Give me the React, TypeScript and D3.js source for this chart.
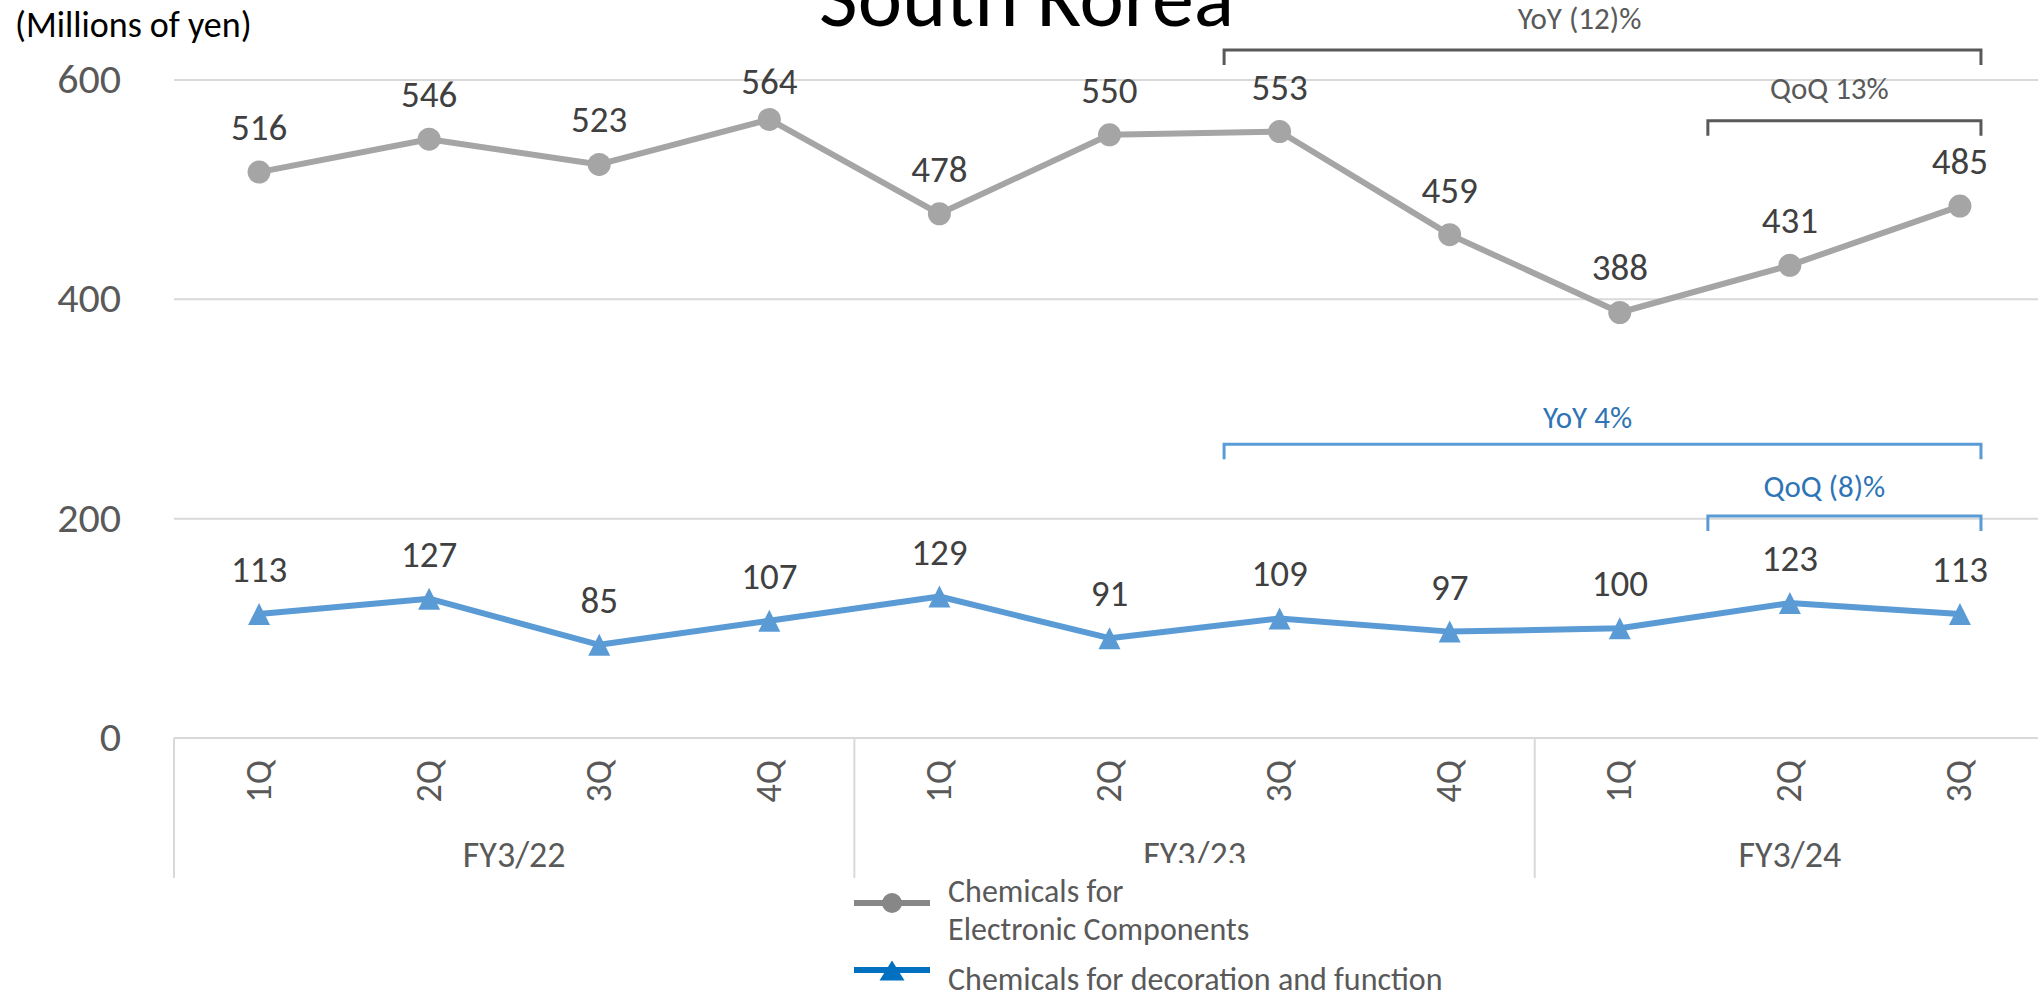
import React from "react";
import * as d3 from "d3";

// Quarterly sales in South Korea (millions of yen)
const quarters = ["1Q", "2Q", "3Q", "4Q", "1Q", "2Q", "3Q", "4Q", "1Q", "2Q", "3Q"];
const fiscalYears = ["FY3/22", "FY3/23", "FY3/24"];
const fiscalYearSpans = [
  [0, 4],
  [4, 8],
  [8, 11],
];
const electronicValues = [516, 546, 523, 564, 478, 550, 553, 459, 388, 431, 485];
const decorationValues = [113, 127, 85, 107, 129, 91, 109, 97, 100, 123, 113];
const yTicks = [0, 200, 400, 600];
const electronicName = ["Chemicals for", "Electronic Components"];
const decorationName = "Chemicals for decoration and function";
const changeNotes = [
  { text: "YoY (12)%", from: 6, to: 10, series: 0 },
  { text: "QoQ 13%", from: 9, to: 10, series: 0 },
  { text: "YoY 4%", from: 6, to: 10, series: 1 },
  { text: "QoQ (8)%", from: 9, to: 10, series: 1 },
];

// Layout of the change brackets (bar height, label offset, left reach)
const noteLayout = [
  { barY: 50, textDy: -21.5, textDx: -23, leftReach: 55.5 },
  { barY: 120.7, textDy: -21.5, textDx: -15, leftReach: 82 },
  { barY: 444.3, textDy: -16.5, textDx: -15, leftReach: 55.5 },
  { barY: 516, textDy: -19.5, textDx: -20, leftReach: 82 },
];

const W = 2038;
const H = 996;
const FONT = "Carlito, Calibri, 'Liberation Sans Narrow', Lato, sans-serif";

const GRAY = "#A5A5A5";
const BLUE = "#5B9BD5";
const GRID = "#D9D9D9";
const AXIS_TEXT = "#595959";
const LABEL_TEXT = "#404040";

export default function App() {
  const plotLeft = 174;
  const plotRight = 2045;
  const plotTop = 80;
  const plotBottom = 738;

  const x = d3
    .scaleBand<number>()
    .domain(d3.range(quarters.length))
    .range([plotLeft, plotRight]);
  const cx = (i: number) => (x(i) as number) + x.bandwidth() / 2;
  const y = d3.scaleLinear().domain([0, 600]).range([plotBottom, plotTop]);

  const line = d3
    .line<number>()
    .x((_, i) => cx(i))
    .y((d) => y(d));

  const triangle = (px: number, py: number, w: number, h: number) => {
    const p = d3.path();
    p.moveTo(px, py - h / 2);
    p.lineTo(px + w / 2, py + h / 2);
    p.lineTo(px - w / 2, py + h / 2);
    p.closePath();
    return p.toString();
  };

  // labels sit above their marker, but never above the top of the plot area
  const labelY = (v: number, minBaseline: number) => Math.max(y(v) - 32, minBaseline);

  return (
    <svg
      width={W}
      height={H}
      style={{ position: "absolute", left: 0, top: 0, background: "#fff" }}
      fontFamily={FONT}
    >
      <rect x={0} y={0} width={W} height={H} fill="#fff" />

      {/* gridlines */}
      {yTicks.map((t) => (
        <line
          key={"g" + t}
          x1={plotLeft}
          x2={plotRight}
          y1={y(t)}
          y2={y(t)}
          stroke={GRID}
          strokeWidth={2}
        />
      ))}

      {/* y axis labels */}
      {yTicks.map((t) => (
        <text
          key={"t" + t}
          x={121}
          y={y(t) + 13}
          textAnchor="end"
          fontSize={42}
          fill={AXIS_TEXT}
        >
          {t}
        </text>
      ))}

      {/* category group separators */}
      {[fiscalYearSpans[0][0], ...fiscalYearSpans.map((s) => s[1])].map((i, k) => {
        const xx = i < quarters.length ? (x(i) as number) : plotRight;
        return (
          <line
            key={"s" + k}
            x1={xx}
            x2={xx}
            y1={plotBottom}
            y2={878}
            stroke={GRID}
            strokeWidth={2}
          />
        );
      })}

      {/* quarter labels */}
      {quarters.map((q, i) => (
        <text
          key={"q" + i}
          transform={`translate(${cx(i)},${760}) rotate(-90)`}
          textAnchor="end"
          dy="0.32em"
          fontSize={36}
          fill={AXIS_TEXT}
        >
          {q}
        </text>
      ))}

      {/* fiscal year labels */}
      {fiscalYears.map((fy, k) => {
        const [a, b] = fiscalYearSpans[k];
        const x0 = x(a) as number;
        const x1 = b < quarters.length ? (x(b) as number) : plotRight;
        return (
          <text
            key={fy}
            x={(x0 + x1) / 2}
            y={866.7}
            textAnchor="middle"
            fontSize={36}
            fill={AXIS_TEXT}
          >
            {fy}
          </text>
        );
      })}

      {/* series lines */}
      <path d={line(electronicValues) || ""} fill="none" stroke={GRAY} strokeWidth={6} strokeLinejoin="round" />
      <path d={line(decorationValues) || ""} fill="none" stroke={BLUE} strokeWidth={6} strokeLinejoin="round" />

      {electronicValues.map((v, i) => (
        <circle key={"c" + i} cx={cx(i)} cy={y(v)} r={11.5} fill={GRAY} />
      ))}
      {decorationValues.map((v, i) => (
        <path key={"tr" + i} d={triangle(cx(i), y(v), 22, 22)} fill={BLUE} />
      ))}

      {/* data labels */}
      {electronicValues.map((v, i) => (
        <text
          key={"le" + i}
          x={cx(i)}
          y={labelY(v, 94)}
          textAnchor="middle"
          fontSize={37}
          fill={LABEL_TEXT}
        >
          {v}
        </text>
      ))}
      {decorationValues.map((v, i) => (
        <text
          key={"ld" + i}
          x={cx(i)}
          y={labelY(v, 0)}
          textAnchor="middle"
          fontSize={37}
          fill={LABEL_TEXT}
        >
          {v}
        </text>
      ))}

      {/* change brackets */}
      {changeNotes.map((n, k) => {
        const lay = noteLayout[k];
        const left = cx(n.from) - lay.leftReach;
        const right = cx(n.to) + 21;
        const stroke = n.series === 0 ? "#595959" : BLUE;
        const textFill = n.series === 0 ? "#595959" : "#2F75B5";
        return (
          <g key={"n" + k}>
            <path
              d={`M${left},${lay.barY + 15}V${lay.barY}H${right}V${lay.barY + 15}`}
              fill="none"
              stroke={stroke}
              strokeWidth={3}
            />
            <text
              x={(left + right) / 2 + lay.textDx}
              y={lay.barY + lay.textDy}
              textAnchor="middle"
              fontSize={31}
              fill={textFill}
            >
              {n.text}
            </text>
          </g>
        );
      })}

      {/* title and unit */}
      <text x={1026.5} y={26} textAnchor="middle" fontSize={84} fill="#000">
        South Korea
      </text>
      <text x={15} y={36.7} fontSize={36} fill="#000">
        (Millions of yen)
      </text>

      {/* legend */}
      <g>
        <rect x={856} y={863} width={620} height={H - 863} fill="#fff" />
        <line x1={854} x2={930} y1={903} y2={903} stroke="#878787" strokeWidth={6} />
        <circle cx={892} cy={903} r={10} fill="#878787" />
        <text x={948} y={901.7} fontSize={32} fill={AXIS_TEXT}>
          {electronicName[0]}
        </text>
        <text x={948} y={940} fontSize={32} fill={AXIS_TEXT}>
          {electronicName[1]}
        </text>
        <line x1={854} x2={930} y1={970} y2={970} stroke="#0070C0" strokeWidth={6} />
        <path d={triangle(892, 970.5, 25, 20)} fill="#0070C0" />
        <text x={948} y={990} fontSize={32} fill={AXIS_TEXT}>
          {decorationName}
        </text>
      </g>
    </svg>
  );
}
